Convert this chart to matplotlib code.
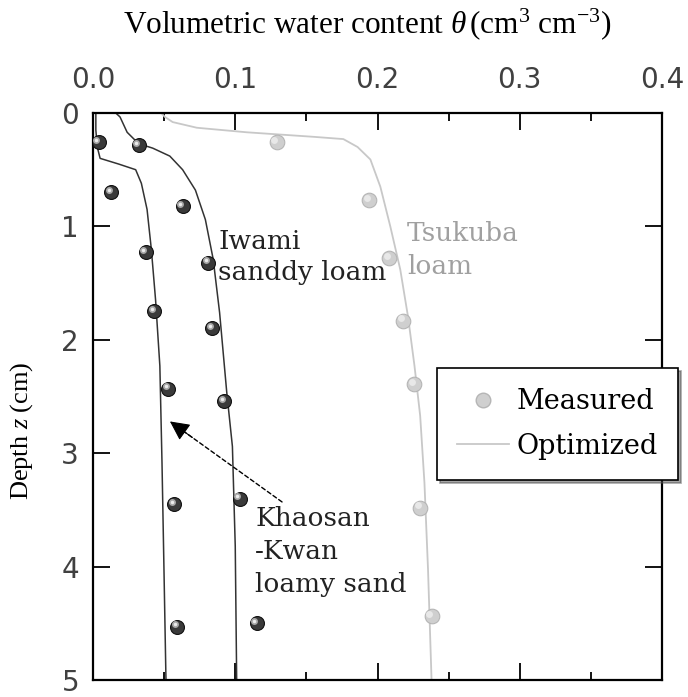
import numpy as np
import matplotlib.pyplot as plt
from matplotlib import transforms
from matplotlib.lines import Line2D

plt.rcParams['mathtext.fontset'] = 'custom'
plt.rcParams['mathtext.rm'] = 'Liberation Serif'
plt.rcParams['mathtext.it'] = 'Liberation Serif:italic'

# measured points (theta, depth)
kk_theta = [0.004, 0.013, 0.037, 0.043, 0.053, 0.057, 0.059]
kk_z = [0.26, 0.70, 1.23, 1.75, 2.43, 3.45, 4.53]
iw_theta = [0.032, 0.063, 0.081, 0.084, 0.092, 0.103, 0.115]
iw_z = [0.28, 0.82, 1.32, 1.90, 2.54, 3.40, 4.50]
ts_theta = [0.129, 0.194, 0.208, 0.218, 0.226, 0.230, 0.238]
ts_z = [0.26, 0.77, 1.28, 1.83, 2.39, 3.48, 4.44]

# optimized curves
kk_line_z = [0.0, 0.15, 0.30, 0.40, 0.45, 0.50, 0.62, 0.85, 1.2, 1.65, 2.23, 3.08, 4.1, 5.0]
kk_line_t = [0.002, 0.002, 0.003, 0.005, 0.018, 0.030, 0.034, 0.038, 0.041, 0.044, 0.047, 0.0485, 0.050, 0.0513]
iw_line_z = [0.0, 0.035, 0.17, 0.27, 0.31, 0.38, 0.50, 0.68, 0.94, 1.29, 1.76, 2.46, 2.94, 3.82, 5.0]
iw_line_t = [0.016, 0.019, 0.024, 0.032, 0.042, 0.054, 0.063, 0.072, 0.079, 0.0845, 0.089, 0.094, 0.098, 0.100, 0.101]
ts_line_z = [0.0, 0.035, 0.08, 0.13, 0.17, 0.21, 0.23, 0.30, 0.41, 0.65, 1.00, 1.38, 1.80, 2.23, 2.67, 3.26, 4.02, 5.0]
ts_line_t = [0.048, 0.0506, 0.056, 0.073, 0.108, 0.155, 0.176, 0.186, 0.195, 0.202, 0.209, 0.216, 0.2215, 0.226, 0.230, 0.233, 0.2355, 0.238]

# arrow pointing at the Khaosan-Kwan curve
arrow_head = (0.0541, 2.72)
arrow_tail = (0.1329, 3.43)

fig = plt.figure(figsize=(6.88, 6.97), dpi=100)
ax = fig.add_axes([93/688, 1-680/697, (662-93)/688, (680-113)/697])

dark = '#333333'
light_line = '#c8c8c8'

ax.plot(kk_line_t, kk_line_z, color=dark, lw=1.1)
ax.plot(iw_line_t, iw_line_z, color=dark, lw=1.1)
ax.plot(ts_line_t, ts_line_z, color=light_line, lw=1.3)

hl = transforms.offset_copy(ax.transData, fig=fig, x=-1.6, y=1.6, units='points')
for t, z in [(kk_theta, kk_z), (iw_theta, iw_z)]:
    ax.plot(t, z, 'o', ms=10, mfc='#3a3a3a', mec='#111111', mew=0.8, zorder=3)
    ax.plot(t, z, 'o', ms=5, mfc='#a8a8a8', mec='none', transform=hl, zorder=4)
    ax.plot(t, z, 'o', ms=2.5, mfc='#ececec', mec='none', transform=hl, zorder=5)
ax.plot(ts_theta, ts_z, 'o', ms=10.5, mfc='#cfcfcf', mec='#b5b5b5', mew=0.8, zorder=3)
ax.plot(ts_theta, ts_z, 'o', ms=5, mfc='#e8e8e8', mec='none', transform=hl, zorder=4)

ax.set_xlim(0, 0.4)
ax.set_ylim(5, 0)
ax.xaxis.tick_top()
ax.set_xticks([0.0, 0.1, 0.2, 0.3, 0.4])
ax.set_xticks(np.arange(0.05, 0.4, 0.1), minor=True)
ax.set_xticklabels(['0.0', '0.1', '0.2', '0.3', '0.4'])
ax.set_yticks([0, 1, 2, 3, 4, 5])
ax.set_yticklabels(['0', '1', '2', '3', '4', '5'])
ax.tick_params(which='both', direction='in', top=True, bottom=True, left=True, right=True,
               width=1.3, colors='black', labelcolor='#404040')
ax.tick_params(which='major', length=12)
ax.tick_params(which='minor', length=6)
ax.tick_params(axis='x', labelsize=20, pad=14)
ax.tick_params(axis='y', labelsize=20, pad=10)
for s in ax.spines.values():
    s.set_linewidth(1.6)

fig.text(367/688, 1-33/697, r'Volumetric water content $\mathit{\theta}\,$(cm$^3$ cm$^{-3}$)',
         ha='center', va='baseline', fontsize=22.5, family='Liberation Serif')
fig.text(22/688, 1-431/697, r'Depth $\mathit{z}$ (cm)', rotation=90, ha='center', va='center',
         fontsize=19, family='Liberation Serif')

ax.text(0.088, 1.02, 'Iwami\nsanddy loam', fontsize=19, family='DejaVu Serif',
        color='#222222', va='top', ha='left', linespacing=1.3)
ax.text(0.2207, 0.95, 'Tsukuba\nloam', fontsize=19, family='DejaVu Serif',
        color='#a0a0a0', va='top', ha='left', linespacing=1.4)
ax.text(0.114, 3.47, 'Khaosan\n-Kwan\nloamy sand', fontsize=19, family='DejaVu Serif',
        color='#222222', va='top', ha='left', linespacing=1.38)

# dashed shaft + solid head
ax.annotate('', xy=arrow_head, xytext=arrow_tail,
            arrowprops=dict(arrowstyle='-', linestyle=(0, (3, 2)), color='black',
                            lw=1.0, shrinkA=0, shrinkB=8))
mid = (arrow_head[0] + 0.2 * (arrow_tail[0] - arrow_head[0]),
       arrow_head[1] + 0.2 * (arrow_tail[1] - arrow_head[1]))
ax.annotate('', xy=arrow_head, xytext=mid,
            arrowprops=dict(arrowstyle='-|>', color='black', lw=0.8,
                            mutation_scale=30, shrinkA=0, shrinkB=0))

handles = [Line2D([], [], ls='none', marker='o', ms=10.5, mfc='#cfcfcf', mec='#b5b5b5'),
           Line2D([], [], color=light_line, lw=1.3)]
leg = ax.legend(handles, ['Measured', 'Optimized'], loc='upper left',
                bbox_to_anchor=(437/688, 1-368/697), bbox_transform=fig.transFigure,
                borderaxespad=0, fancybox=False, shadow=True, frameon=True,
                prop={'family': 'DejaVu Serif', 'size': 19.5}, handlelength=1.9,
                handletextpad=0.3, borderpad=0.75, labelspacing=0.65)
leg.get_frame().set_edgecolor('black')
leg.get_frame().set_linewidth(1.2)
leg.set_zorder(10)

fig.savefig('out.png', dpi=100)
